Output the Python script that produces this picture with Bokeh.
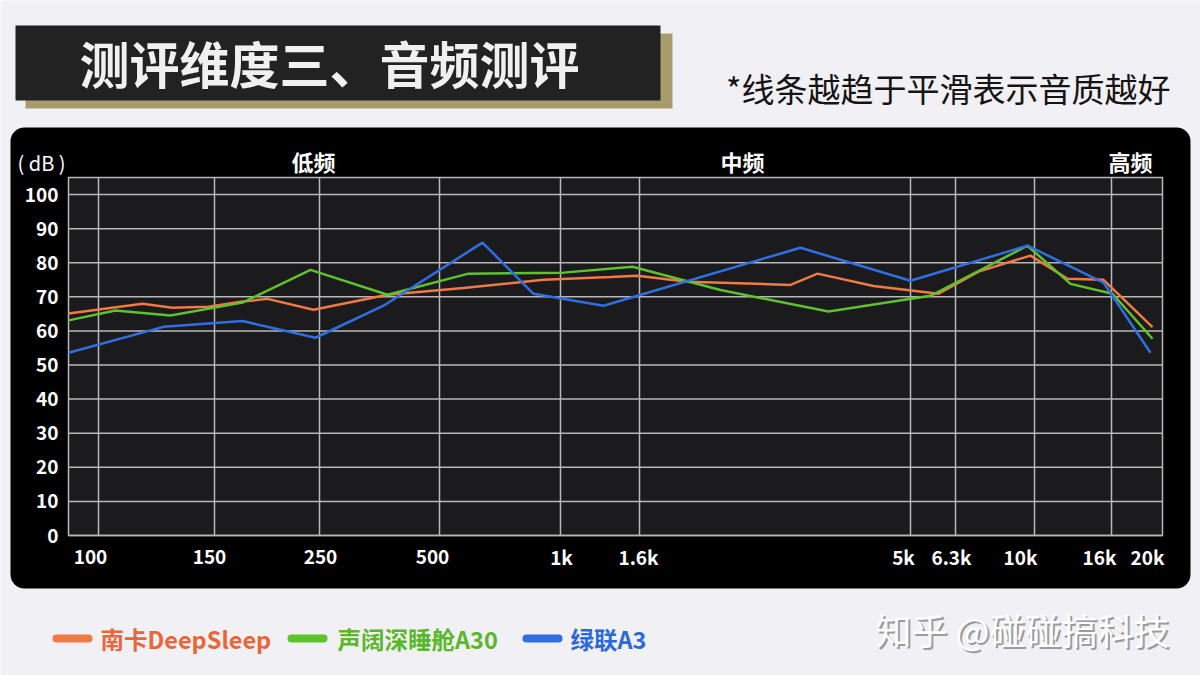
from bokeh.plotting import figure
from bokeh.models import Range1d
from bokeh.core.properties import value
from bokeh.embed import file_html
from bokeh.resources import INLINE

# ---------------- data ----------------
# x is an ordinal "position" scale along the hand-drawn frequency axis (0..1094)
x_tick_pos = [22, 141, 252, 364, 493, 570, 835, 883, 952, 1031, 1079]
x_tick_labels = ["100", "150", "250", "500", "1k", "1.6k", "5k", "6.3k", "10k", "16k", "20k"]
x_grid_pos = [30, 146, 251, 371, 492, 571, 842, 887, 966, 1043]
y_ticks = [0, 10, 20, 30, 40, 50, 60, 70, 80, 90, 100]
y_tick_labels = [str(v) for v in y_ticks]

series_names = ["南卡DeepSleep", "声阔深睡舱A30", "绿联A3"]

nanka_x = [0, 74, 104, 140, 174, 199, 245, 319, 395, 475, 542, 569, 619, 722, 749, 805, 870, 910, 962, 999, 1035, 1084]
nanka_y = [65.1, 68.0, 66.8, 67.1, 68.6, 69.4, 66.2, 70.6, 72.6, 75.0, 75.8, 76.2, 74.4, 73.5, 76.8, 73.2, 70.9, 77.4, 82.1, 75.3, 75.0, 61.1]

shengkuo_x = [0, 47, 102, 174, 242, 319, 400, 495, 564, 652, 760, 862, 959, 1002, 1044, 1084]
shengkuo_y = [63.1, 66.0, 64.5, 68.3, 77.9, 70.6, 76.8, 77.1, 78.8, 72.0, 65.7, 70.3, 85.0, 73.8, 70.9, 57.7]

lvlian_x = [0, 95, 174, 247, 315, 414, 465, 535, 732, 842, 959, 1035, 1082]
lvlian_y = [53.6, 61.2, 62.9, 58.0, 67.4, 85.9, 70.9, 67.4, 84.4, 74.7, 85.0, 74.2, 53.6]

band_labels = ["低频", "中频", "高频"]
title_text = "测评维度三、音频测评"
subtitle_text = "*线条越趋于平滑表示音质越好"
unit_text = "( dB )"
watermark_text = "知乎 @碰碰搞科技"

# ---------------- layout / style ----------------
W, H = 1200, 675
FONT = "Noto Sans CJK SC"
line_colors = ["#f07a45", "#5ec22c", "#2f6fe3"]
legend_text_colors = ["#ea6639", "#59b82a", "#2a68de"]
BG = "#f1f0f4"

# plot-area placement on the canvas (pixels)
PL, PR, PT, PB = 68, 1162, 177, 535
X0, X1 = 0, 1094      # position-scale extent
Y0, Y1 = 0, 105       # dB extent

p = figure(width=W, height=H, min_border=0,
           x_range=Range1d(0, W), y_range=Range1d(H, 0),
           x_axis_location=None, y_axis_location=None,
           output_backend="svg", toolbar_location=None, tools="")
p.border_fill_color = BG
p.background_fill_color = BG
p.outline_line_color = None
p.grid.visible = False

# data ranges mapped onto the plot area
kx = (X1 - X0) / (PR - PL)
ky = (Y1 - Y0) / (PB - PT)
p.extra_x_ranges = {"pos": Range1d(X0 - PL * kx, X1 + (W - PR) * kx)}
p.extra_y_ranges = {"db": Range1d(Y0 - (H - PB) * ky, Y1 + PT * ky)}
D = dict(x_range_name="pos", y_range_name="db")

# black rounded panel and title boxes (decoration, canvas pixels)
p.quad(left=[10], right=[1190], top=[127], bottom=[588], fill_color="#000000",
       line_color=None, border_radius=14)
p.quad(left=[25], right=[672], top=[33], bottom=[108], fill_color="#a99c6c", line_color=None)
p.quad(left=[15], right=[660], top=[25], bottom=[100], fill_color="#222222", line_color=None)

# dark plot area
p.quad(left=[X0], right=[X1], bottom=[Y0], top=[Y1], fill_color="#1b1a1c",
       line_color="#b8b8b8", line_width=1.5, **D)

# grid
p.segment(x0=x_grid_pos, x1=x_grid_pos, y0=[Y0] * len(x_grid_pos), y1=[Y1] * len(x_grid_pos),
          line_color="#b8b8b8", line_width=1.5, **D)
p.segment(x0=[X0] * len(y_ticks), x1=[X1] * len(y_ticks), y0=y_ticks, y1=y_ticks,
          line_color="#b8b8b8", line_width=1.5, **D)

# tick labels
p.text(x=x_tick_pos, y=[Y0] * len(x_tick_pos), text=x_tick_labels, y_offset=21,
       text_font=value(FONT), text_font_size=value("19px"), text_font_style="bold",
       text_color="#ffffff", text_align="center", text_baseline="middle", **D)
p.text(x=[X0] * len(y_ticks), y=y_ticks, text=y_tick_labels, x_offset=-10,
       text_font=value(FONT), text_font_size=value("19px"), text_font_style="bold",
       text_color="#ffffff", text_align="right", text_baseline="middle", **D)

# series lines
for xs, ys, c in zip([nanka_x, shengkuo_x, lvlian_x], [nanka_y, shengkuo_y, lvlian_y], line_colors):
    p.line(xs, ys, line_color=c, line_width=2.5, **D)

def ctext(x, y, text, size, color, style="bold", align="left"):
    p.text(x=[x], y=[y], text=[text], text_font=value(FONT), text_font_size=value(size),
           text_font_style=style, text_color=color, text_align=align, text_baseline="middle")

# title + subtitle
ctext(329, 61, title_text, "50px", "#f0f0f0", align="center")
ctext(1170, 87, subtitle_text, "33px", "#141414", style="normal", align="right")

# unit + band labels
ctext(17, 162, unit_text, "20px", "#ffffff", style="normal")
for bx, txt in zip([313, 742, 1130], band_labels):
    ctext(bx, 160, txt, "22px", "#ffffff", align="center")

# legend
sw_left = [56, 291, 526]
txt_left = [100, 337, 570]
for sl, tl, name, lc, tc in zip(sw_left, txt_left, series_names, line_colors, legend_text_colors):
    p.segment(x0=[sl], x1=[sl + 32], y0=[638], y1=[638], line_color=lc, line_width=8,
              line_cap="round")
    ctext(tl, 638, name, "23.5px", tc)

# watermark
ctext(877, 630, watermark_text, "36px", "#9c9c9c", style="normal")
ctext(875, 628, watermark_text, "36px", "#ffffff", style="normal")

open("out.html", "w").write(file_html(p, INLINE))
